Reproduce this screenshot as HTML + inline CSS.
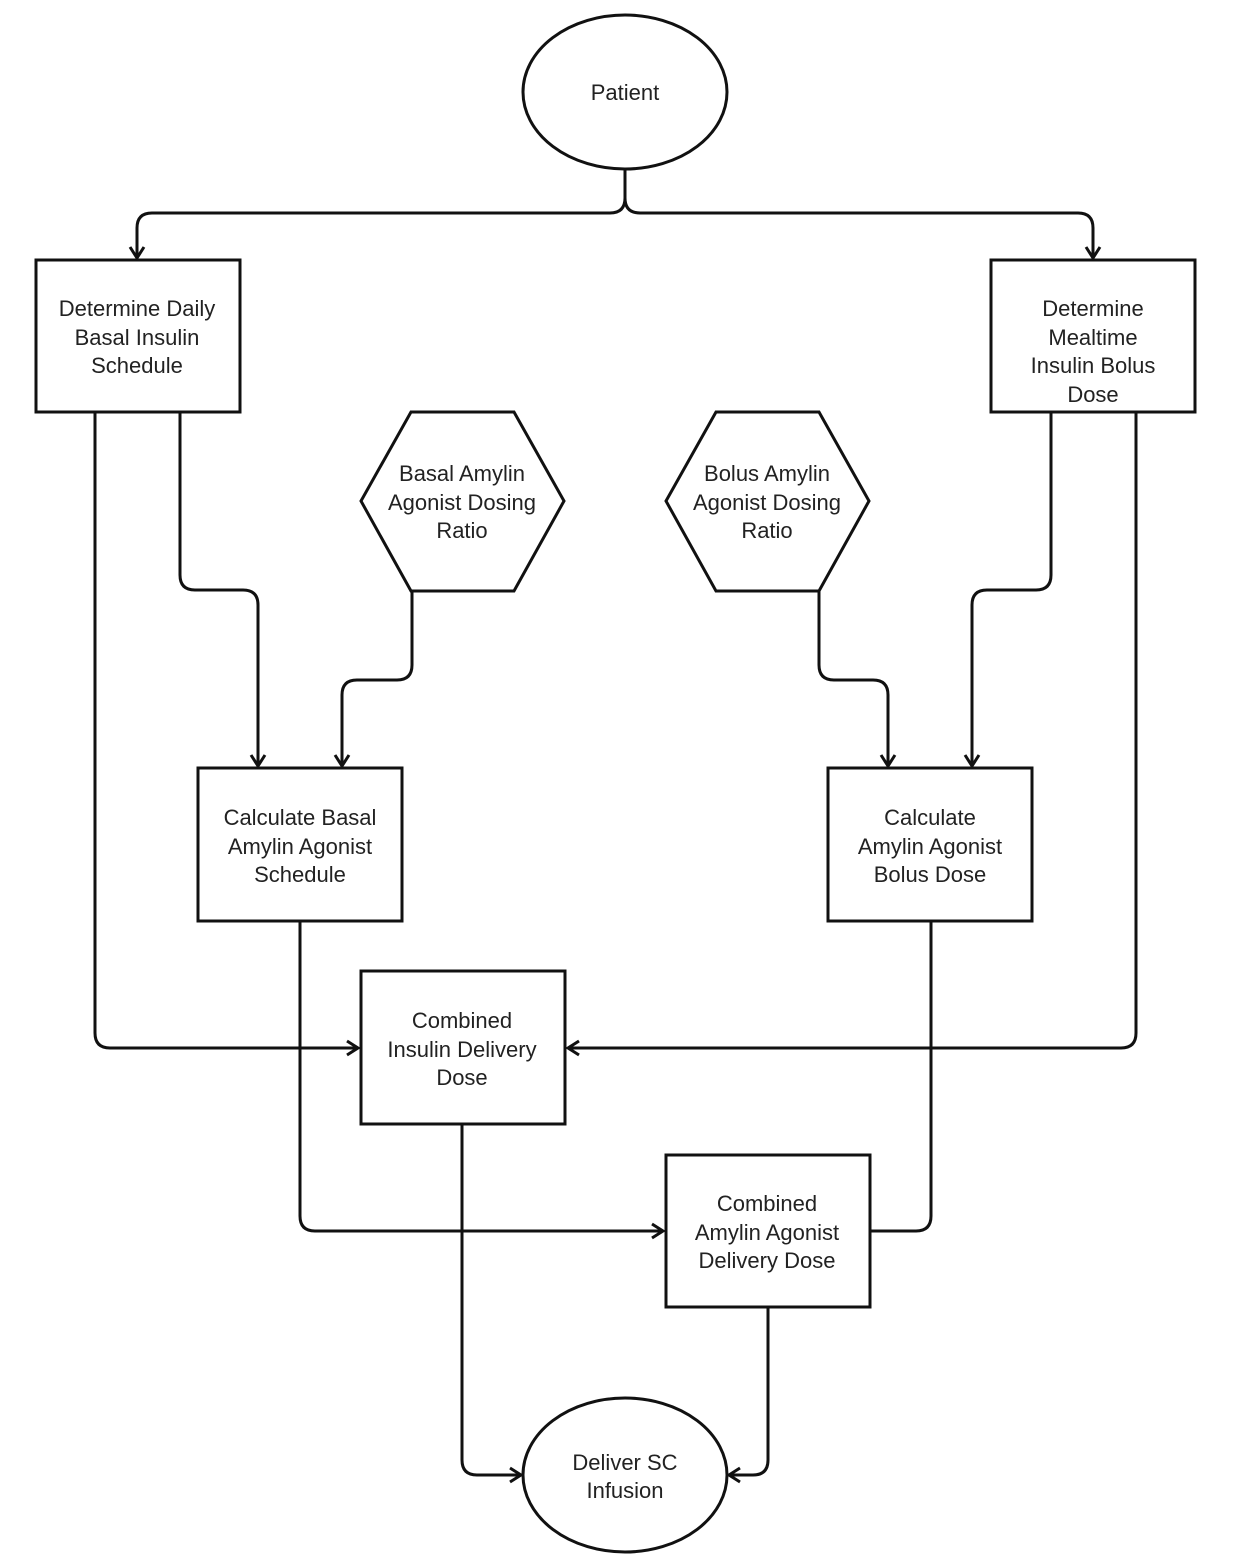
<!DOCTYPE html>
<html><head><meta charset="utf-8"><style>
html,body{margin:0;padding:0;background:#fff;}
svg{display:block;}
text{font-family:"Liberation Sans",sans-serif;font-size:22px;fill:#222;text-anchor:middle;}
</style></head><body>
<svg width="1235" height="1567" viewBox="0 0 1235 1567">
<g fill="none" stroke="#111" stroke-width="3">
<ellipse cx="625" cy="92" rx="102" ry="77"/>
<ellipse cx="625" cy="1475" rx="102" ry="77"/>
<rect x="36" y="260" width="204" height="152"/>
<rect x="991" y="260" width="204" height="152"/>
<polygon points="411,412 514,412 564,501 514,591 411,591 361,501"/>
<polygon points="716,412 819,412 869,501 819,591 716,591 666,501"/>
<rect x="198" y="768" width="204" height="153"/>
<rect x="828" y="768" width="204" height="153"/>
<rect x="361" y="971" width="204" height="153"/>
<rect x="666" y="1155" width="204" height="152"/>
<!-- connectors -->
<path d="M625 169 V198 Q625 213 610 213 H152 Q137 213 137 228 V257"/>
<path d="M625 169 V198 Q625 213 640 213 H1078 Q1093 213 1093 228 V257"/>
<path d="M95 412 V1033 Q95 1048 110 1048 H358"/>
<path d="M180 412 V575 Q180 590 195 590 H243 Q258 590 258 605 V765"/>
<path d="M412 591 V665 Q412 680 397 680 H357 Q342 680 342 695 V765"/>
<path d="M819 591 V665 Q819 680 834 680 H873 Q888 680 888 695 V765"/>
<path d="M1051 412 V575 Q1051 590 1036 590 H987 Q972 590 972 605 V765"/>
<path d="M1136 412 V1033 Q1136 1048 1121 1048 H568"/>
<path d="M300 921 V1216 Q300 1231 315 1231 H663"/>
<path d="M931 921 V1216 Q931 1231 916 1231 H870"/>
<path d="M462 1124 V1460 Q462 1475 477 1475 H521"/>
<path d="M768 1307 V1460 Q768 1475 753 1475 H729"/>
<!-- arrowheads -->
<path d="M130 247 L137 258 L144 247"/>
<path d="M1086 247 L1093 258 L1100 247"/>
<path d="M251 755 L258 766 L265 755"/>
<path d="M335 755 L342 766 L349 755"/>
<path d="M881 755 L888 766 L895 755"/>
<path d="M965 755 L972 766 L979 755"/>
<path d="M347 1041 L358 1048 L347 1055"/>
<path d="M579 1041 L568 1048 L579 1055"/>
<path d="M652 1224 L663 1231 L652 1238"/>
<path d="M510 1468 L521 1475 L510 1482"/>
<path d="M740 1468 L729 1475 L740 1482"/>
</g>
<text x="625" y="100">Patient</text>
<text x="137" y="316">Determine Daily</text>
<text x="137" y="345">Basal Insulin</text>
<text x="137" y="373">Schedule</text>
<text x="1093" y="316">Determine</text>
<text x="1093" y="345">Mealtime</text>
<text x="1093" y="373">Insulin Bolus</text>
<text x="1093" y="402">Dose</text>
<text x="462" y="481">Basal Amylin</text>
<text x="462" y="510">Agonist Dosing</text>
<text x="462" y="538">Ratio</text>
<text x="767" y="481">Bolus Amylin</text>
<text x="767" y="510">Agonist Dosing</text>
<text x="767" y="538">Ratio</text>
<text x="300" y="825">Calculate Basal</text>
<text x="300" y="854">Amylin Agonist</text>
<text x="300" y="882">Schedule</text>
<text x="930" y="825">Calculate</text>
<text x="930" y="854">Amylin Agonist</text>
<text x="930" y="882">Bolus Dose</text>
<text x="462" y="1028">Combined</text>
<text x="462" y="1057">Insulin Delivery</text>
<text x="462" y="1085">Dose</text>
<text x="767" y="1211">Combined</text>
<text x="767" y="1240">Amylin Agonist</text>
<text x="767" y="1268">Delivery Dose</text>
<text x="625" y="1470">Deliver SC</text>
<text x="625" y="1498">Infusion</text>
</svg>
</body></html>
